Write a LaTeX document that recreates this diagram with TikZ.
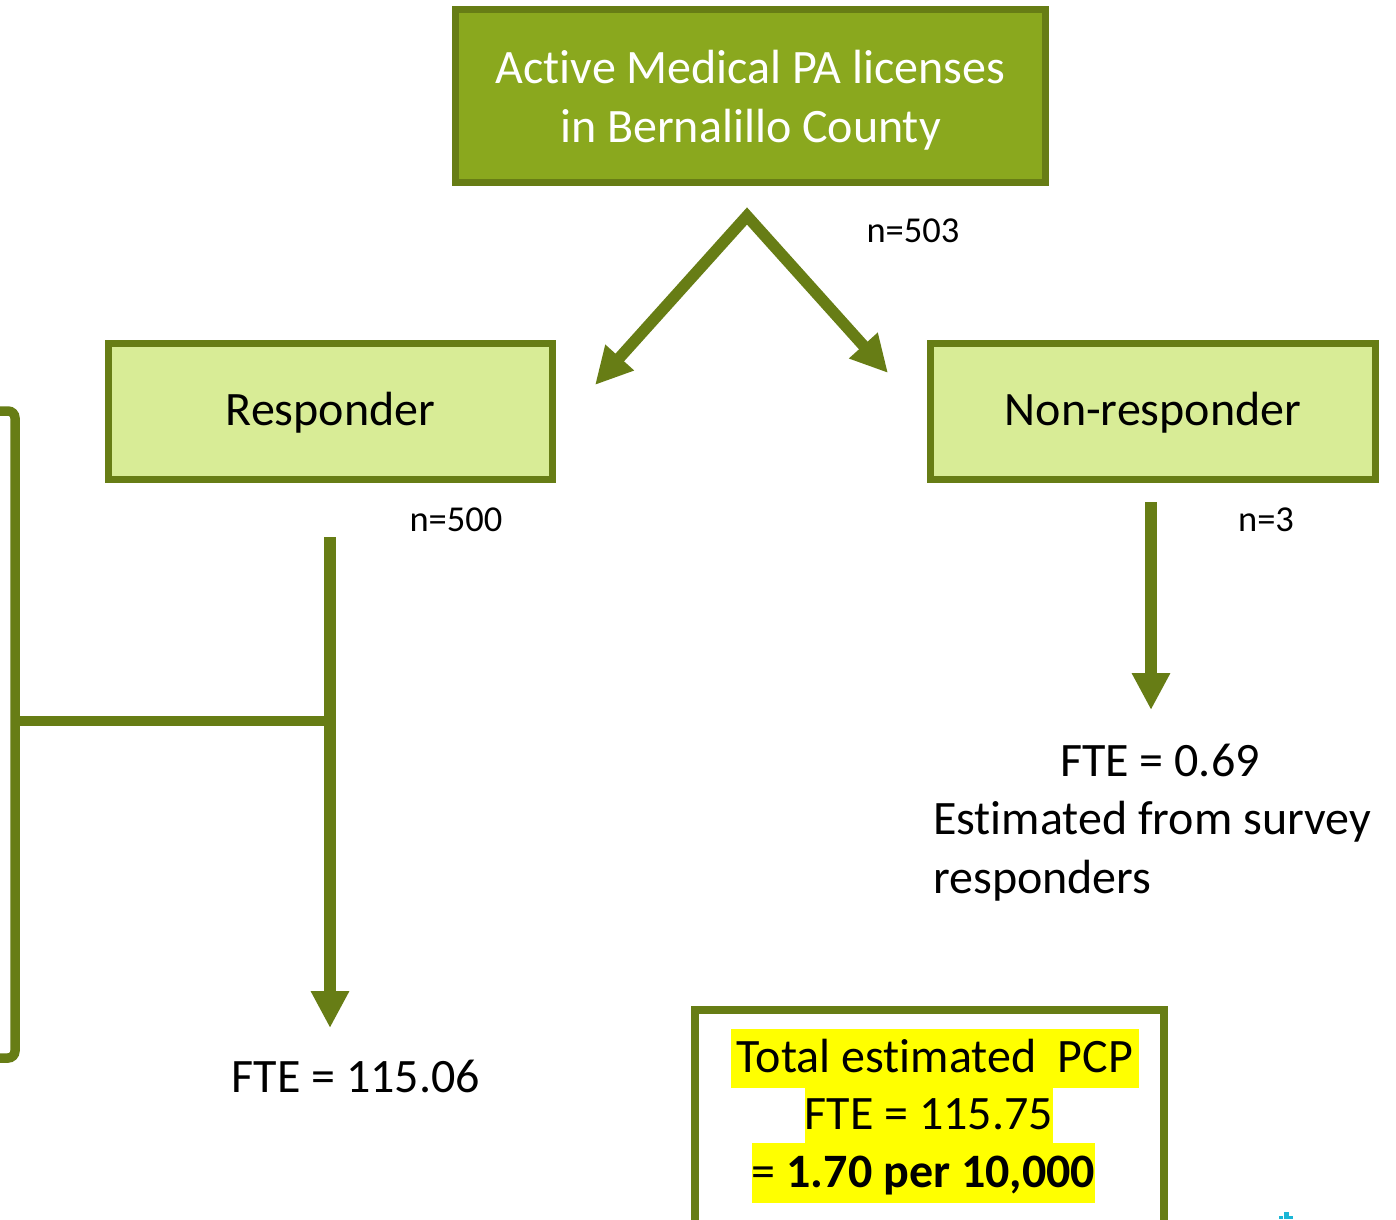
\documentclass[tikz,border=0pt]{standalone}
\usepackage{fontspec}
\setmainfont{Carlito}[Ligatures=NoCommon]
\usetikzlibrary{arrows.meta}
\definecolor{pgreen}{RGB}{103,125,21}
\definecolor{topgreen}{RGB}{138,168,30}
\definecolor{lightgreen}{RGB}{216,236,150}
\definecolor{hlyellow}{RGB}{255,255,0}
\definecolor{markcyan}{RGB}{27,182,214}
\begin{document}
\begin{tikzpicture}[x=1pt,y=-1pt,
  bigtext/.style={font=\fontsize{48}{58}\selectfont, text height=38.4pt, text depth=9.6pt, inner sep=0pt},
  smalltext/.style={font=\fontsize{36.5}{44}\selectfont, text height=29.2pt, text depth=7.3pt, inner sep=0pt},
  box/.style={draw=pgreen, line width=7pt, inner sep=0pt},
  flow/.style={draw=pgreen, line width=11.5pt, -{Triangle[width=36pt,length=37pt]}},
  bar/.style={draw=pgreen, line width=9.5pt},
  hl/.style={bigtext, fill=hlyellow}]
\useasboundingbox (0,0) rectangle (1396,1219);

% boxes
\node[box, fill=topgreen, minimum width=590pt, minimum height=173pt] (lic) at (750.5,96) {};
\node[text=white, align=center, inner sep=0pt, font=\fontsize{48}{58.5}\selectfont] (lictext) at (750.5,100)
      {Active Medical PA licenses\\in Bernalillo County};
\node[box, fill=lightgreen, minimum width=444pt, minimum height=136pt, bigtext] (resp) at (330.5,411.5) {Responder};
\node[box, fill=lightgreen, minimum width=445pt, minimum height=136pt, bigtext] (nonresp) at (1153,411.5) {Non-responder};

% split arrows below the licenses box
\coordinate (split) at (747,216);
\coordinate (rtip) at (595,385);
\coordinate (ntip) at (888,373);
\draw[draw=pgreen, line width=11.5pt, line join=miter, {Triangle[width=36pt,length=37pt]}-{Triangle[width=36pt,length=37pt]}]
  (rtip) -- (split) -- (ntip);

% counts
\node[smalltext] (n503) at (913,232) {n=503};
\node[smalltext] (n500) at (456,521) {n=500};
\node[smalltext] (n3) at (1266,521) {n=3};

% downward arrows
\coordinate (rstart) at (330,537);
\coordinate (rend) at (330,1028);
\coordinate (nstart) at (1151,502);
\coordinate (nend) at (1151,710);
\draw[flow] (rstart) -- (rend);
\draw[flow] (nstart) -- (nend);

% bracket on the left
\coordinate (bt) at (15,411);
\coordinate (bb) at (15,1058);
\coordinate (bm) at (15,721);
\coordinate (rm) at (330,721);
\draw[bar, rounded corners=7pt] (-30,411) -- (bt) -- (bb) -- (-30,1058);
\draw[bar] (bm) -- (rm);

% results
\node[bigtext] (fte1) at (356,1078) {FTE = 115.06};
\node[bigtext] (fte2) at (1160,762) {FTE = 0.69};
\node[bigtext, anchor=west] (est1) at (933,820) {Estimated from survey};
\node[bigtext, anchor=west] (est2) at (933,879) {responders};

% total box
\node[draw=pgreen, line width=8pt, fill=white, minimum width=469pt, minimum height=240pt] (total) at (929.5,1130) {};
\node[hl, minimum width=408pt, minimum height=59pt] (t1) at (935,1058.5) {Total estimated\ \ PCP\ };
\node[hl, minimum width=248pt, minimum height=55pt] (t2) at (929,1115.5) {FTE = 115.75};
\node[hl, minimum width=343pt, minimum height=60pt] (t3) at (923.5,1173) {= \textbf{1.70 per 10,000}};

% small mark at the bottom edge
\fill[markcyan] (1279,1216) rectangle (1283,1219);
\fill[markcyan] (1284,1212) rectangle (1289,1219);
\fill[markcyan] (1289,1216) rectangle (1293,1219);
\end{tikzpicture}
\end{document}
